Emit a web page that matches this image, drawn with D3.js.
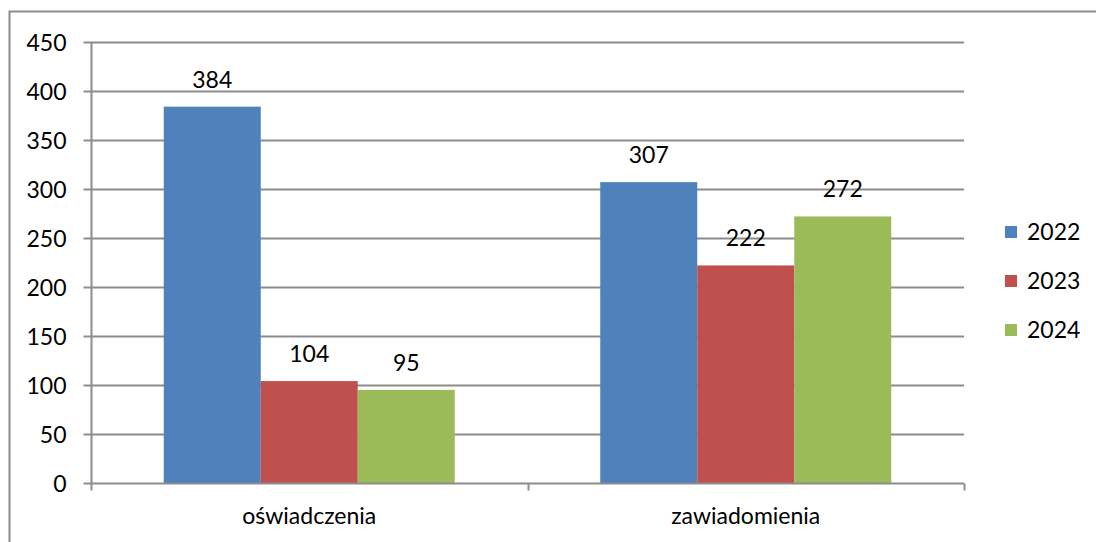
<!DOCTYPE html>
<html>
<head>
<meta charset="utf-8">
<script src="https://cdn.jsdelivr.net/npm/d3@7"></script>
<style>
  body { margin: 0; background: #fff; }
  text { font-family: Lato, "Open Sans", sans-serif; fill: #000; }
</style>
</head>
<body>
<div id="chart"></div>
<script>
var categories = ["oświadczenia", "zawiadomienia"];
var years = ["2022", "2023", "2024"];
var v2022 = [384, 307];
var v2023 = [104, 222];
var v2024 = [95, 272];
var colors = ["#4F81BD", "#C0504D", "#9BBB59"];
var yTicks = [0, 50, 100, 150, 200, 250, 300, 350, 400, 450];

const chart_width = 1096, chart_height = 542;
const plot_left = 91, plot_right = 964, plot_top = 42, plot_bottom = 483;
const font_size = "23px";

var series = [v2022, v2023, v2024];

var svg = d3.select("#chart").append("svg")
  .attr("width", chart_width)
  .attr("height", chart_height);

// outer frame (right and bottom run off the picture)
svg.append("rect")
  .attr("x", 9.5).attr("y", 11.5)
  .attr("width", 1200).attr("height", 600)
  .style("fill", "none")
  .style("stroke", "#8c8c8c")
  .style("stroke-width", 2);

var y = d3.scaleLinear().domain([0, 450]).range([plot_bottom, plot_top]);
var x0 = d3.scaleBand().domain(categories).range([plot_left, plot_right]).paddingInner(0).paddingOuter(0);
var x1 = d3.scaleBand().domain(years).range([0, x0.bandwidth()]).paddingInner(0).paddingOuter(0.75);

// gridlines
svg.append("g").selectAll("line")
  .data(yTicks.filter(d => d > 0))
  .join("line")
  .attr("x1", plot_left).attr("x2", plot_right)
  .attr("y1", d => Math.round(y(d)) + 0.5).attr("y2", d => Math.round(y(d)) + 0.5)
  .style("stroke", "#8c8c8c")
  .style("stroke-width", 2);

// bars
series.forEach(function (vals, si) {
  svg.append("g").selectAll("rect")
    .data(vals)
    .join("rect")
    .attr("x", (d, i) => x0(categories[i]) + x1(years[si]))
    .attr("width", x1.bandwidth())
    .attr("y", d => y(d))
    .attr("height", d => y(0) - y(d))
    .style("fill", colors[si]);

  svg.append("g").selectAll("text")
    .data(vals)
    .join("text")
    .attr("x", (d, i) => x0(categories[i]) + x1(years[si]) + x1.bandwidth() / 2)
    .attr("y", d => y(d) - 19)
    .attr("text-anchor", "middle")
    .style("font-size", font_size)
    .text(d => d);
});

// y axis
var yAxis = svg.append("g")
  .attr("transform", "translate(" + (plot_left + 0.5) + ",0)")
  .call(d3.axisLeft(y).tickValues(yTicks).tickSize(8).tickPadding(17));
yAxis.selectAll("text").style("font-size", font_size).style("font-family", "Lato, sans-serif").attr("dy", "0.35em");
yAxis.selectAll("line").style("stroke", "#8c8c8c").style("stroke-width", 2);
yAxis.select(".domain").attr("d", "M0," + plot_top + "V" + plot_bottom).style("stroke", "#8c8c8c").style("stroke-width", 2);

// x axis
var xAxis = svg.append("g")
  .attr("transform", "translate(0," + (plot_bottom + 0.5) + ")")
  .call(d3.axisBottom(x0).tickSize(0).tickPadding(24));
xAxis.selectAll("text").style("font-size", font_size).style("font-family", "Lato, sans-serif");
xAxis.select(".domain").attr("d", "M" + plot_left + ",0H" + plot_right).style("stroke", "#8c8c8c").style("stroke-width", 2);
xAxis.append("g").selectAll("line")
  .data([plot_left, plot_left + x0.bandwidth(), plot_right])
  .join("line")
  .attr("x1", d => Math.round(d) + 0.5).attr("x2", d => Math.round(d) + 0.5)
  .attr("y1", 0).attr("y2", 7)
  .style("stroke", "#8c8c8c")
  .style("stroke-width", 2);

// legend
var legend = svg.append("g").selectAll("g")
  .data(years)
  .join("g")
  .attr("transform", (d, i) => "translate(1005," + (232 + i * 49) + ")");
legend.append("rect")
  .attr("x", 0).attr("y", -6)
  .attr("width", 12).attr("height", 12)
  .style("fill", (d, i) => colors[i]);
legend.append("text")
  .attr("x", 22).attr("y", 0).attr("dy", "0.35em")
  .style("font-size", font_size)
  .text(d => d);
</script>
</body>
</html>
